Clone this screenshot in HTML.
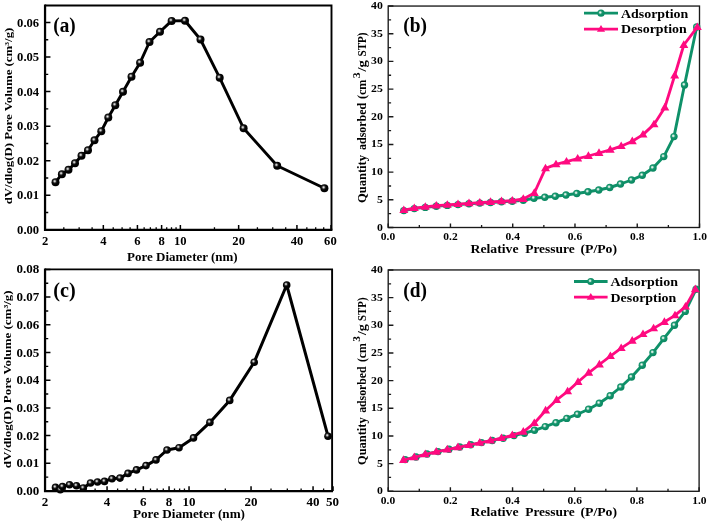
<!DOCTYPE html>
<html><head><meta charset="utf-8"><title>Pore size distribution and isotherms</title>
<style>
html,body{margin:0;padding:0;background:#fff;}
body{width:708px;height:524px;overflow:hidden;}
svg{display:block;will-change:transform;filter:blur(0.35px);font-family:"Liberation Serif",serif;font-weight:bold;fill:#000;}
</style></head><body>
<svg width="708" height="524" viewBox="0 0 708 524">
<defs>
<radialGradient id="gk" cx="0.40" cy="0.38" r="0.6" fx="0.40" fy="0.38">
<stop offset="0" stop-color="#ececec"/><stop offset="0.16" stop-color="#b0b0b0"/><stop offset="0.36" stop-color="#2a2a2a"/><stop offset="0.55" stop-color="#050505"/><stop offset="1" stop-color="#000"/>
</radialGradient>
<radialGradient id="gg" cx="0.40" cy="0.40" r="0.6" fx="0.40" fy="0.40">
<stop offset="0" stop-color="#f4fbf8"/><stop offset="0.18" stop-color="#bfe3d6"/><stop offset="0.40" stop-color="#239a73"/><stop offset="0.6" stop-color="#0f9169"/><stop offset="1" stop-color="#0b8761"/>
</radialGradient>
</defs>
<rect width="708" height="524" fill="#fff"/>
<path d="M45.05 5.5H331.5V229.8" fill="none" stroke="#000" stroke-width="1.9" stroke-linejoin="miter"/>
<path d="M45.05 4.55V229.8H332.45" fill="none" stroke="#000" stroke-width="2.25" stroke-linejoin="miter"/>
<path d="M45.05 229.80h5.4M45.05 195.25h5.4M45.05 160.70h5.4M45.05 126.15h5.4M45.05 91.60h5.4M45.05 57.05h5.4M45.05 22.50h5.4" stroke="#000" stroke-width="1.5" fill="none"/>
<path d="M45.05 212.53h3.2M45.05 177.97h3.2M45.05 143.43h3.2M45.05 108.88h3.2M45.05 74.33h3.2M45.05 39.78h3.2" stroke="#000" stroke-width="1.4" fill="none"/>
<text x="39.15" y="233.8" font-size="12.6" text-anchor="end">0.00</text>
<text x="39.15" y="199.25" font-size="12.6" text-anchor="end">0.01</text>
<text x="39.15" y="164.7" font-size="12.6" text-anchor="end">0.02</text>
<text x="39.15" y="130.15" font-size="12.6" text-anchor="end">0.03</text>
<text x="39.15" y="95.6" font-size="12.6" text-anchor="end">0.04</text>
<text x="39.15" y="61.05" font-size="12.6" text-anchor="end">0.05</text>
<text x="39.15" y="26.5" font-size="12.6" text-anchor="end">0.06</text>
<path d="M45.05 229.8v-4.8M103.33 229.8v-4.8M137.42 229.8v-4.8M161.61 229.8v-4.8M180.37 229.8v-4.8M238.65 229.8v-4.8M296.93 229.8v-4.8M331.02 229.8v-4.8" stroke="#000" stroke-width="1.5" fill="none"/>
<path d="M63.81 229.8v-2.6M79.14 229.8v-2.6M92.10 229.8v-2.6M113.23 229.8v-2.6M122.09 229.8v-2.6M130.10 229.8v-2.6M144.15 229.8v-2.6M150.38 229.8v-2.6M156.18 229.8v-2.6M166.71 229.8v-2.6M171.51 229.8v-2.6M176.06 229.8v-2.6M214.46 229.8v-2.6M257.41 229.8v-2.6M272.74 229.8v-2.6M285.70 229.8v-2.6M306.83 229.8v-2.6M315.69 229.8v-2.6M323.70 229.8v-2.6" stroke="#000" stroke-width="1.3" fill="none"/>
<text x="45.05" y="245.3" font-size="12.6" text-anchor="middle">2</text>
<text x="103.33" y="245.3" font-size="12.6" text-anchor="middle">4</text>
<text x="137.42" y="245.3" font-size="12.6" text-anchor="middle">6</text>
<text x="161.61" y="245.3" font-size="12.6" text-anchor="middle">8</text>
<text x="180.37" y="245.3" font-size="12.6" text-anchor="middle">10</text>
<text x="238.65" y="245.3" font-size="12.6" text-anchor="middle">20</text>
<text x="296.93" y="245.3" font-size="12.6" text-anchor="middle">40</text>
<text x="330.42" y="245.3" font-size="12.6" text-anchor="middle">60</text>
<polyline points="55.50,182.20 61.90,174.20 68.50,169.80 75.00,163.20 81.50,155.80 88.00,150.20 94.50,140.30 101.30,131.20 108.30,117.50 115.30,105.20 123.00,91.80 131.50,76.70 140.10,62.70 149.50,42.00 160.00,31.80 171.60,20.90 185.00,20.80 200.50,39.50 219.70,77.80 243.60,128.30 277.20,165.80 324.40,188.30" fill="none" stroke="#000" stroke-width="2.9" stroke-linejoin="round" stroke-linecap="round"/>
<circle cx="55.50" cy="182.20" r="4.0" fill="url(#gk)"/>
<circle cx="61.90" cy="174.20" r="4.0" fill="url(#gk)"/>
<circle cx="68.50" cy="169.80" r="4.0" fill="url(#gk)"/>
<circle cx="75.00" cy="163.20" r="4.0" fill="url(#gk)"/>
<circle cx="81.50" cy="155.80" r="4.0" fill="url(#gk)"/>
<circle cx="88.00" cy="150.20" r="4.0" fill="url(#gk)"/>
<circle cx="94.50" cy="140.30" r="4.0" fill="url(#gk)"/>
<circle cx="101.30" cy="131.20" r="4.0" fill="url(#gk)"/>
<circle cx="108.30" cy="117.50" r="4.0" fill="url(#gk)"/>
<circle cx="115.30" cy="105.20" r="4.0" fill="url(#gk)"/>
<circle cx="123.00" cy="91.80" r="4.0" fill="url(#gk)"/>
<circle cx="131.50" cy="76.70" r="4.0" fill="url(#gk)"/>
<circle cx="140.10" cy="62.70" r="4.0" fill="url(#gk)"/>
<circle cx="149.50" cy="42.00" r="4.0" fill="url(#gk)"/>
<circle cx="160.00" cy="31.80" r="4.0" fill="url(#gk)"/>
<circle cx="171.60" cy="20.90" r="4.0" fill="url(#gk)"/>
<circle cx="185.00" cy="20.80" r="4.0" fill="url(#gk)"/>
<circle cx="200.50" cy="39.50" r="4.0" fill="url(#gk)"/>
<circle cx="219.70" cy="77.80" r="4.0" fill="url(#gk)"/>
<circle cx="243.60" cy="128.30" r="4.0" fill="url(#gk)"/>
<circle cx="277.20" cy="165.80" r="4.0" fill="url(#gk)"/>
<circle cx="324.40" cy="188.30" r="4.0" fill="url(#gk)"/>
<text x="64.5" y="32.3" font-size="20.4" text-anchor="middle" textLength="22.40" lengthAdjust="spacingAndGlyphs">(a)</text>
<text x="182.4" y="260.8" font-size="12.9" text-anchor="middle" textLength="110.60" lengthAdjust="spacingAndGlyphs">Pore Diameter (nm)</text>
<text x="12.2" y="116" font-size="11.4" text-anchor="middle" textLength="176.70" lengthAdjust="spacingAndGlyphs" transform="rotate(-90 12.2 116)">dV/dlog(D) Pore Volume (cm³/g)</text>
<path d="M45.05 269.35H332.1V491.0" fill="none" stroke="#000" stroke-width="1.9" stroke-linejoin="miter"/>
<path d="M45.05 268.40000000000003V491.0H333.05" fill="none" stroke="#000" stroke-width="2.25" stroke-linejoin="miter"/>
<path d="M45.05 491.00h5.4M45.05 463.30h5.4M45.05 435.60h5.4M45.05 407.90h5.4M45.05 380.20h5.4M45.05 352.50h5.4M45.05 324.80h5.4M45.05 297.10h5.4M45.05 269.40h5.4" stroke="#000" stroke-width="1.5" fill="none"/>
<path d="M45.05 477.15h3.2M45.05 449.45h3.2M45.05 421.75h3.2M45.05 394.05h3.2M45.05 366.35h3.2M45.05 338.65h3.2M45.05 310.95h3.2M45.05 283.25h3.2" stroke="#000" stroke-width="1.4" fill="none"/>
<text x="39.15" y="495.0" font-size="13.0" text-anchor="end">0.00</text>
<text x="39.15" y="467.3" font-size="13.0" text-anchor="end">0.01</text>
<text x="39.15" y="439.6" font-size="13.0" text-anchor="end">0.02</text>
<text x="39.15" y="411.9" font-size="13.0" text-anchor="end">0.03</text>
<text x="39.15" y="384.2" font-size="13.0" text-anchor="end">0.04</text>
<text x="39.15" y="356.5" font-size="13.0" text-anchor="end">0.05</text>
<text x="39.15" y="328.8" font-size="13.0" text-anchor="end">0.06</text>
<text x="39.15" y="301.1" font-size="13.0" text-anchor="end">0.07</text>
<text x="39.15" y="273.4" font-size="13.0" text-anchor="end">0.08</text>
<path d="M45.05 491.0v-4.8M107.06 491.0v-4.8M143.34 491.0v-4.8M169.07 491.0v-4.8M189.04 491.0v-4.8M251.05 491.0v-4.8M313.06 491.0v-4.8M333.03 491.0v-4.8" stroke="#000" stroke-width="1.5" fill="none"/>
<path d="M65.01 491.0v-2.6M81.32 491.0v-2.6M95.12 491.0v-2.6M117.60 491.0v-2.6M127.03 491.0v-2.6M135.55 491.0v-2.6M150.50 491.0v-2.6M157.13 491.0v-2.6M163.30 491.0v-2.6M174.50 491.0v-2.6M179.61 491.0v-2.6M184.45 491.0v-2.6M225.31 491.0v-2.6M271.01 491.0v-2.6M287.32 491.0v-2.6M301.12 491.0v-2.6M323.60 491.0v-2.6" stroke="#000" stroke-width="1.3" fill="none"/>
<text x="45.05" y="505.9" font-size="13.0" text-anchor="middle">2</text>
<text x="107.06" y="505.9" font-size="13.0" text-anchor="middle">4</text>
<text x="143.34" y="505.9" font-size="13.0" text-anchor="middle">6</text>
<text x="169.07" y="505.9" font-size="13.0" text-anchor="middle">8</text>
<text x="189.04" y="505.9" font-size="13.0" text-anchor="middle">10</text>
<text x="251.05" y="505.9" font-size="13.0" text-anchor="middle">20</text>
<text x="313.06" y="505.9" font-size="13.0" text-anchor="middle">40</text>
<text x="332.43" y="505.9" font-size="13.0" text-anchor="middle">50</text>
<polyline points="55.50,487.40 60.30,489.80 62.50,486.60 69.50,484.70 76.50,485.70 83.30,488.00 90.50,483.00 97.50,482.00 104.50,481.40 112.00,478.70 120.00,478.10 128.00,473.40 136.50,469.90 146.00,465.60 156.00,459.90 167.00,450.00 179.00,447.70 193.50,437.90 209.90,422.40 229.70,400.40 254.20,362.20 286.70,285.00 328.00,436.20" fill="none" stroke="#000" stroke-width="3.0" stroke-linejoin="round" stroke-linecap="round"/>
<circle cx="55.50" cy="487.40" r="3.8" fill="url(#gk)"/>
<circle cx="60.30" cy="489.80" r="3.8" fill="url(#gk)"/>
<circle cx="62.50" cy="486.60" r="3.8" fill="url(#gk)"/>
<circle cx="69.50" cy="484.70" r="3.8" fill="url(#gk)"/>
<circle cx="76.50" cy="485.70" r="3.8" fill="url(#gk)"/>
<circle cx="83.30" cy="488.00" r="3.8" fill="url(#gk)"/>
<circle cx="90.50" cy="483.00" r="3.8" fill="url(#gk)"/>
<circle cx="97.50" cy="482.00" r="3.8" fill="url(#gk)"/>
<circle cx="104.50" cy="481.40" r="3.8" fill="url(#gk)"/>
<circle cx="112.00" cy="478.70" r="3.8" fill="url(#gk)"/>
<circle cx="120.00" cy="478.10" r="3.8" fill="url(#gk)"/>
<circle cx="128.00" cy="473.40" r="3.8" fill="url(#gk)"/>
<circle cx="136.50" cy="469.90" r="3.8" fill="url(#gk)"/>
<circle cx="146.00" cy="465.60" r="3.8" fill="url(#gk)"/>
<circle cx="156.00" cy="459.90" r="3.8" fill="url(#gk)"/>
<circle cx="167.00" cy="450.00" r="3.8" fill="url(#gk)"/>
<circle cx="179.00" cy="447.70" r="3.8" fill="url(#gk)"/>
<circle cx="193.50" cy="437.90" r="3.8" fill="url(#gk)"/>
<circle cx="209.90" cy="422.40" r="3.8" fill="url(#gk)"/>
<circle cx="229.70" cy="400.40" r="3.8" fill="url(#gk)"/>
<circle cx="254.20" cy="362.20" r="3.8" fill="url(#gk)"/>
<circle cx="286.70" cy="285.00" r="3.8" fill="url(#gk)"/>
<circle cx="328.00" cy="436.20" r="3.8" fill="url(#gk)"/>
<text x="64.5" y="296.6" font-size="20.4" text-anchor="middle" textLength="22.40" lengthAdjust="spacingAndGlyphs">(c)</text>
<text x="189" y="518.4" font-size="13" text-anchor="middle" textLength="112.00" lengthAdjust="spacingAndGlyphs">Pore Diameter (nm)</text>
<text x="10.9" y="379.3" font-size="10.6" text-anchor="middle" textLength="177.90" lengthAdjust="spacingAndGlyphs" transform="rotate(-90 10.9 379.3)">dV/dlog(D) Pore Volume (cm³/g)</text>
<rect x="388.2" y="6.05" width="311.30" height="221.45" fill="none" stroke="#1a1a1a" stroke-width="1.35"/>
<path d="M388.2 227.50h5.2M388.2 199.82h5.2M388.2 172.14h5.2M388.2 144.46h5.2M388.2 116.78h5.2M388.2 89.09h5.2M388.2 61.41h5.2M388.2 33.73h5.2M388.2 6.05h5.2" stroke="#1a1a1a" stroke-width="1.4" fill="none"/>
<path d="M388.2 213.66h2.9M388.2 185.98h2.9M388.2 158.30h2.9M388.2 130.62h2.9M388.2 102.93h2.9M388.2 75.25h2.9M388.2 47.57h2.9M388.2 19.89h2.9" stroke="#1a1a1a" stroke-width="1.3" fill="none"/>
<text x="382.8" y="230.5" font-size="10.5" text-anchor="end" textLength="5.88" lengthAdjust="spacingAndGlyphs">0</text>
<text x="382.8" y="202.82" font-size="10.5" text-anchor="end" textLength="5.88" lengthAdjust="spacingAndGlyphs">5</text>
<text x="382.8" y="175.14" font-size="10.5" text-anchor="end" textLength="11.76" lengthAdjust="spacingAndGlyphs">10</text>
<text x="382.8" y="147.46" font-size="10.5" text-anchor="end" textLength="11.76" lengthAdjust="spacingAndGlyphs">15</text>
<text x="382.8" y="119.78" font-size="10.5" text-anchor="end" textLength="11.76" lengthAdjust="spacingAndGlyphs">20</text>
<text x="382.8" y="92.09" font-size="10.5" text-anchor="end" textLength="11.76" lengthAdjust="spacingAndGlyphs">25</text>
<text x="382.8" y="64.41" font-size="10.5" text-anchor="end" textLength="11.76" lengthAdjust="spacingAndGlyphs">30</text>
<text x="382.8" y="36.73" font-size="10.5" text-anchor="end" textLength="11.76" lengthAdjust="spacingAndGlyphs">35</text>
<text x="382.8" y="9.05" font-size="10.5" text-anchor="end" textLength="11.76" lengthAdjust="spacingAndGlyphs">40</text>
<path d="M388.20 227.5v-4.0M450.46 227.5v-4.0M512.72 227.5v-4.0M574.98 227.5v-4.0M637.24 227.5v-4.0M699.50 227.5v-4.0" stroke="#1a1a1a" stroke-width="1.4" fill="none"/>
<path d="M419.33 227.5v-2.5M481.59 227.5v-2.5M543.85 227.5v-2.5M606.11 227.5v-2.5M668.37 227.5v-2.5" stroke="#1a1a1a" stroke-width="1.3" fill="none"/>
<text x="388.0" y="240.1" font-size="10.3" text-anchor="middle" textLength="14.40" lengthAdjust="spacingAndGlyphs">0.0</text>
<text x="450.46" y="240.1" font-size="10.3" text-anchor="middle" textLength="14.40" lengthAdjust="spacingAndGlyphs">0.2</text>
<text x="512.72" y="240.1" font-size="10.3" text-anchor="middle" textLength="14.40" lengthAdjust="spacingAndGlyphs">0.4</text>
<text x="574.98" y="240.1" font-size="10.3" text-anchor="middle" textLength="14.40" lengthAdjust="spacingAndGlyphs">0.6</text>
<text x="637.24" y="240.1" font-size="10.3" text-anchor="middle" textLength="14.40" lengthAdjust="spacingAndGlyphs">0.8</text>
<text x="699.8" y="240.1" font-size="10.3" text-anchor="middle" textLength="14.40" lengthAdjust="spacingAndGlyphs">1.0</text>
<polyline points="403.80,210.60 414.30,208.60 425.30,207.40 436.30,206.20 447.30,205.40 458.00,204.60 469.00,203.80 479.80,203.10 490.50,202.50 501.50,201.80 512.30,201.20 523.30,200.20 534.00,198.20 544.80,197.30 555.30,196.30 566.00,195.00 576.80,193.50 588.00,191.80 598.80,190.00 609.80,187.50 620.50,184.00 631.50,180.00 642.30,175.30 653.00,168.00 663.80,156.60 674.00,136.60 684.50,85.00 696.70,27.00" fill="none" stroke="#0f9169" stroke-width="2.9" stroke-linejoin="round" stroke-linecap="round"/>
<circle cx="403.80" cy="210.60" r="3.7" fill="url(#gg)"/>
<circle cx="414.30" cy="208.60" r="3.7" fill="url(#gg)"/>
<circle cx="425.30" cy="207.40" r="3.7" fill="url(#gg)"/>
<circle cx="436.30" cy="206.20" r="3.7" fill="url(#gg)"/>
<circle cx="447.30" cy="205.40" r="3.7" fill="url(#gg)"/>
<circle cx="458.00" cy="204.60" r="3.7" fill="url(#gg)"/>
<circle cx="469.00" cy="203.80" r="3.7" fill="url(#gg)"/>
<circle cx="479.80" cy="203.10" r="3.7" fill="url(#gg)"/>
<circle cx="490.50" cy="202.50" r="3.7" fill="url(#gg)"/>
<circle cx="501.50" cy="201.80" r="3.7" fill="url(#gg)"/>
<circle cx="512.30" cy="201.20" r="3.7" fill="url(#gg)"/>
<circle cx="523.30" cy="200.20" r="3.7" fill="url(#gg)"/>
<circle cx="534.00" cy="198.20" r="3.7" fill="url(#gg)"/>
<circle cx="544.80" cy="197.30" r="3.7" fill="url(#gg)"/>
<circle cx="555.30" cy="196.30" r="3.7" fill="url(#gg)"/>
<circle cx="566.00" cy="195.00" r="3.7" fill="url(#gg)"/>
<circle cx="576.80" cy="193.50" r="3.7" fill="url(#gg)"/>
<circle cx="588.00" cy="191.80" r="3.7" fill="url(#gg)"/>
<circle cx="598.80" cy="190.00" r="3.7" fill="url(#gg)"/>
<circle cx="609.80" cy="187.50" r="3.7" fill="url(#gg)"/>
<circle cx="620.50" cy="184.00" r="3.7" fill="url(#gg)"/>
<circle cx="631.50" cy="180.00" r="3.7" fill="url(#gg)"/>
<circle cx="642.30" cy="175.30" r="3.7" fill="url(#gg)"/>
<circle cx="653.00" cy="168.00" r="3.7" fill="url(#gg)"/>
<circle cx="663.80" cy="156.60" r="3.7" fill="url(#gg)"/>
<circle cx="674.00" cy="136.60" r="3.7" fill="url(#gg)"/>
<circle cx="684.50" cy="85.00" r="3.7" fill="url(#gg)"/>
<circle cx="696.70" cy="27.00" r="3.7" fill="url(#gg)"/>
<polyline points="403.80,210.20 414.30,208.10 425.30,206.90 436.30,205.70 447.30,204.90 458.00,204.10 469.00,203.30 479.80,202.60 490.50,202.00 501.50,201.30 512.30,200.60 523.30,199.00 534.30,193.00 545.50,168.40 556.00,164.40 566.50,161.60 577.70,158.70 588.40,156.00 599.00,153.00 610.20,149.80 621.20,146.20 632.30,141.30 643.00,134.60 654.00,124.40 664.80,107.50 674.70,75.50 683.80,45.00 697.30,27.20" fill="none" stroke="#ff0a80" stroke-width="2.8" stroke-linejoin="round" stroke-linecap="round"/>
<path d="M403.80 205.49L408.30 213.09L399.30 213.09ZM414.30 203.39L418.80 210.99L409.80 210.99ZM425.30 202.19L429.80 209.79L420.80 209.79ZM436.30 200.99L440.80 208.59L431.80 208.59ZM447.30 200.19L451.80 207.79L442.80 207.79ZM458.00 199.39L462.50 206.99L453.50 206.99ZM469.00 198.59L473.50 206.19L464.50 206.19ZM479.80 197.89L484.30 205.49L475.30 205.49ZM490.50 197.29L495.00 204.89L486.00 204.89ZM501.50 196.59L506.00 204.19L497.00 204.19ZM512.30 195.89L516.80 203.49L507.80 203.49ZM523.30 194.29L527.80 201.89L518.80 201.89ZM534.30 188.29L538.80 195.89L529.80 195.89ZM545.50 163.69L550.00 171.29L541.00 171.29ZM556.00 159.69L560.50 167.29L551.50 167.29ZM566.50 156.89L571.00 164.49L562.00 164.49ZM577.70 153.99L582.20 161.59L573.20 161.59ZM588.40 151.29L592.90 158.89L583.90 158.89ZM599.00 148.29L603.50 155.89L594.50 155.89ZM610.20 145.09L614.70 152.69L605.70 152.69ZM621.20 141.49L625.70 149.09L616.70 149.09ZM632.30 136.59L636.80 144.19L627.80 144.19ZM643.00 129.89L647.50 137.49L638.50 137.49ZM654.00 119.69L658.50 127.29L649.50 127.29ZM664.80 102.79L669.30 110.39L660.30 110.39ZM674.70 70.79L679.20 78.39L670.20 78.39ZM683.80 40.29L688.30 47.89L679.30 47.89ZM697.30 22.49L701.80 30.09L692.80 30.09Z" fill="#ff0a80"/>
<path d="M584 13.2H618" stroke="#0f9169" stroke-width="2.8"/>
<circle cx="601.00" cy="13.20" r="3.6" fill="url(#gg)"/>
<path d="M584 29.2H618" stroke="#ff0a80" stroke-width="2.8"/>
<path d="M601.00 24.92L605.10 31.82L596.90 31.82Z" fill="#ff0a80"/>
<text x="621" y="17.5" font-size="12.2" textLength="67.30" lengthAdjust="spacingAndGlyphs">Adsorption</text>
<text x="621" y="33.2" font-size="12.2" textLength="65.80" lengthAdjust="spacingAndGlyphs">Desorption</text>
<text x="415.2" y="32.2" font-size="20.8" text-anchor="middle" textLength="23.70" lengthAdjust="spacingAndGlyphs">(b)</text>
<text x="470.5" y="253.1" font-size="12.2" textLength="48.10" lengthAdjust="spacingAndGlyphs">Relative</text>
<text x="525.2" y="253.1" font-size="12.2" textLength="49.40" lengthAdjust="spacingAndGlyphs">Pressure</text>
<text x="580.4" y="253.1" font-size="12.2" textLength="36.70" lengthAdjust="spacingAndGlyphs">(P/Po)</text>
<rect x="388.2" y="269.95" width="310.90" height="221.35" fill="none" stroke="#1a1a1a" stroke-width="1.35"/>
<path d="M388.2 491.30h5.2M388.2 463.63h5.2M388.2 435.96h5.2M388.2 408.29h5.2M388.2 380.62h5.2M388.2 352.96h5.2M388.2 325.29h5.2M388.2 297.62h5.2M388.2 269.95h5.2" stroke="#1a1a1a" stroke-width="1.4" fill="none"/>
<path d="M388.2 477.47h2.9M388.2 449.80h2.9M388.2 422.13h2.9M388.2 394.46h2.9M388.2 366.79h2.9M388.2 339.12h2.9M388.2 311.45h2.9M388.2 283.78h2.9" stroke="#1a1a1a" stroke-width="1.3" fill="none"/>
<text x="382.8" y="494.3" font-size="10.5" text-anchor="end" textLength="5.88" lengthAdjust="spacingAndGlyphs">0</text>
<text x="382.8" y="466.63" font-size="10.5" text-anchor="end" textLength="5.88" lengthAdjust="spacingAndGlyphs">5</text>
<text x="382.8" y="438.96" font-size="10.5" text-anchor="end" textLength="11.76" lengthAdjust="spacingAndGlyphs">10</text>
<text x="382.8" y="411.29" font-size="10.5" text-anchor="end" textLength="11.76" lengthAdjust="spacingAndGlyphs">15</text>
<text x="382.8" y="383.62" font-size="10.5" text-anchor="end" textLength="11.76" lengthAdjust="spacingAndGlyphs">20</text>
<text x="382.8" y="355.96" font-size="10.5" text-anchor="end" textLength="11.76" lengthAdjust="spacingAndGlyphs">25</text>
<text x="382.8" y="328.29" font-size="10.5" text-anchor="end" textLength="11.76" lengthAdjust="spacingAndGlyphs">30</text>
<text x="382.8" y="300.62" font-size="10.5" text-anchor="end" textLength="11.76" lengthAdjust="spacingAndGlyphs">35</text>
<text x="382.8" y="272.95" font-size="10.5" text-anchor="end" textLength="11.76" lengthAdjust="spacingAndGlyphs">40</text>
<path d="M388.20 491.3v-4.0M450.38 491.3v-4.0M512.56 491.3v-4.0M574.74 491.3v-4.0M636.92 491.3v-4.0M699.10 491.3v-4.0" stroke="#1a1a1a" stroke-width="1.4" fill="none"/>
<path d="M419.29 491.3v-2.5M481.47 491.3v-2.5M543.65 491.3v-2.5M605.83 491.3v-2.5M668.01 491.3v-2.5" stroke="#1a1a1a" stroke-width="1.3" fill="none"/>
<text x="388.0" y="503.8" font-size="10.3" text-anchor="middle" textLength="14.40" lengthAdjust="spacingAndGlyphs">0.0</text>
<text x="450.38" y="503.8" font-size="10.3" text-anchor="middle" textLength="14.40" lengthAdjust="spacingAndGlyphs">0.2</text>
<text x="512.56" y="503.8" font-size="10.3" text-anchor="middle" textLength="14.40" lengthAdjust="spacingAndGlyphs">0.4</text>
<text x="574.74" y="503.8" font-size="10.3" text-anchor="middle" textLength="14.40" lengthAdjust="spacingAndGlyphs">0.6</text>
<text x="636.92" y="503.8" font-size="10.3" text-anchor="middle" textLength="14.40" lengthAdjust="spacingAndGlyphs">0.8</text>
<text x="699.4" y="503.8" font-size="10.3" text-anchor="middle" textLength="14.40" lengthAdjust="spacingAndGlyphs">1.0</text>
<polyline points="405.20,459.60 416.00,457.00 427.00,454.00 438.00,451.60 449.00,449.30 459.70,447.00 470.70,444.80 481.50,442.60 492.20,440.50 503.20,438.20 514.00,435.60 524.50,433.20 534.50,430.30 545.30,426.60 556.00,422.70 566.80,418.40 577.50,414.20 588.60,409.20 599.30,403.20 610.20,395.70 620.80,387.00 631.50,377.00 642.30,365.20 653.00,352.60 663.80,338.60 674.50,325.20 685.30,311.40 696.10,289.30" fill="none" stroke="#0f9169" stroke-width="2.9" stroke-linejoin="round" stroke-linecap="round"/>
<circle cx="405.20" cy="459.60" r="3.7" fill="url(#gg)"/>
<circle cx="416.00" cy="457.00" r="3.7" fill="url(#gg)"/>
<circle cx="427.00" cy="454.00" r="3.7" fill="url(#gg)"/>
<circle cx="438.00" cy="451.60" r="3.7" fill="url(#gg)"/>
<circle cx="449.00" cy="449.30" r="3.7" fill="url(#gg)"/>
<circle cx="459.70" cy="447.00" r="3.7" fill="url(#gg)"/>
<circle cx="470.70" cy="444.80" r="3.7" fill="url(#gg)"/>
<circle cx="481.50" cy="442.60" r="3.7" fill="url(#gg)"/>
<circle cx="492.20" cy="440.50" r="3.7" fill="url(#gg)"/>
<circle cx="503.20" cy="438.20" r="3.7" fill="url(#gg)"/>
<circle cx="514.00" cy="435.60" r="3.7" fill="url(#gg)"/>
<circle cx="524.50" cy="433.20" r="3.7" fill="url(#gg)"/>
<circle cx="534.50" cy="430.30" r="3.7" fill="url(#gg)"/>
<circle cx="545.30" cy="426.60" r="3.7" fill="url(#gg)"/>
<circle cx="556.00" cy="422.70" r="3.7" fill="url(#gg)"/>
<circle cx="566.80" cy="418.40" r="3.7" fill="url(#gg)"/>
<circle cx="577.50" cy="414.20" r="3.7" fill="url(#gg)"/>
<circle cx="588.60" cy="409.20" r="3.7" fill="url(#gg)"/>
<circle cx="599.30" cy="403.20" r="3.7" fill="url(#gg)"/>
<circle cx="610.20" cy="395.70" r="3.7" fill="url(#gg)"/>
<circle cx="620.80" cy="387.00" r="3.7" fill="url(#gg)"/>
<circle cx="631.50" cy="377.00" r="3.7" fill="url(#gg)"/>
<circle cx="642.30" cy="365.20" r="3.7" fill="url(#gg)"/>
<circle cx="653.00" cy="352.60" r="3.7" fill="url(#gg)"/>
<circle cx="663.80" cy="338.60" r="3.7" fill="url(#gg)"/>
<circle cx="674.50" cy="325.20" r="3.7" fill="url(#gg)"/>
<circle cx="685.30" cy="311.40" r="3.7" fill="url(#gg)"/>
<circle cx="696.10" cy="289.30" r="3.7" fill="url(#gg)"/>
<polyline points="403.50,460.00 414.30,457.30 425.30,454.30 436.30,451.80 447.30,449.50 458.00,447.30 469.00,445.00 479.80,442.80 490.50,440.70 501.50,438.20 512.30,435.20 523.30,431.80 534.30,423.20 545.60,410.50 556.60,400.00 567.60,391.40 578.00,382.00 588.70,372.80 599.40,364.50 610.40,356.20 621.20,348.20 632.20,340.80 643.00,334.20 653.60,328.40 664.40,322.00 675.00,315.40 685.50,306.60 695.30,289.30" fill="none" stroke="#ff0a80" stroke-width="2.8" stroke-linejoin="round" stroke-linecap="round"/>
<path d="M403.50 455.29L408.00 462.89L399.00 462.89ZM414.30 452.59L418.80 460.19L409.80 460.19ZM425.30 449.59L429.80 457.19L420.80 457.19ZM436.30 447.09L440.80 454.69L431.80 454.69ZM447.30 444.79L451.80 452.39L442.80 452.39ZM458.00 442.59L462.50 450.19L453.50 450.19ZM469.00 440.29L473.50 447.89L464.50 447.89ZM479.80 438.09L484.30 445.69L475.30 445.69ZM490.50 435.99L495.00 443.59L486.00 443.59ZM501.50 433.49L506.00 441.09L497.00 441.09ZM512.30 430.49L516.80 438.09L507.80 438.09ZM523.30 427.09L527.80 434.69L518.80 434.69ZM534.30 418.49L538.80 426.09L529.80 426.09ZM545.60 405.79L550.10 413.39L541.10 413.39ZM556.60 395.29L561.10 402.89L552.10 402.89ZM567.60 386.69L572.10 394.29L563.10 394.29ZM578.00 377.29L582.50 384.89L573.50 384.89ZM588.70 368.09L593.20 375.69L584.20 375.69ZM599.40 359.79L603.90 367.39L594.90 367.39ZM610.40 351.49L614.90 359.09L605.90 359.09ZM621.20 343.49L625.70 351.09L616.70 351.09ZM632.20 336.09L636.70 343.69L627.70 343.69ZM643.00 329.49L647.50 337.09L638.50 337.09ZM653.60 323.69L658.10 331.29L649.10 331.29ZM664.40 317.29L668.90 324.89L659.90 324.89ZM675.00 310.69L679.50 318.29L670.50 318.29ZM685.50 301.89L690.00 309.49L681.00 309.49ZM695.30 284.59L699.80 292.19L690.80 292.19Z" fill="#ff0a80"/>
<path d="M574 281.5H607.6" stroke="#0f9169" stroke-width="2.8"/>
<circle cx="590.80" cy="281.50" r="3.6" fill="url(#gg)"/>
<path d="M574 297.2H607.6" stroke="#ff0a80" stroke-width="2.8"/>
<path d="M590.80 292.92L594.90 299.82L586.70 299.82Z" fill="#ff0a80"/>
<text x="610.5" y="285.8" font-size="12.2" textLength="67.50" lengthAdjust="spacingAndGlyphs">Adsorption</text>
<text x="610.5" y="301.8" font-size="12.2" textLength="65.80" lengthAdjust="spacingAndGlyphs">Desorption</text>
<text x="415.2" y="296.6" font-size="20.8" text-anchor="middle" textLength="23.70" lengthAdjust="spacingAndGlyphs">(d)</text>
<text x="470.5" y="516.4" font-size="12.2" textLength="48.10" lengthAdjust="spacingAndGlyphs">Relative</text>
<text x="525.2" y="516.4" font-size="12.2" textLength="49.40" lengthAdjust="spacingAndGlyphs">Pressure</text>
<text x="580.4" y="516.4" font-size="12.2" textLength="36.70" lengthAdjust="spacingAndGlyphs">(P/Po)</text>
<text x="366.1" y="203.1" font-size="12.0" textLength="48.20" lengthAdjust="spacingAndGlyphs" transform="rotate(-90 366.1 203.1)">Quantity</text>
<text x="366.1" y="149.9" font-size="12.0" textLength="47.00" lengthAdjust="spacingAndGlyphs" transform="rotate(-90 366.1 149.9)">adsorbed</text>
<text x="366.1" y="99.1" font-size="12.0" textLength="19.60" lengthAdjust="spacingAndGlyphs" transform="rotate(-90 366.1 99.1)">(cm</text>
<text x="360.0" y="78.2" font-size="9.6" textLength="5.80" lengthAdjust="spacingAndGlyphs" transform="rotate(-90 360.0 78.2)">3</text>
<text x="366.1" y="71.5" font-size="12.0" textLength="11.50" lengthAdjust="spacingAndGlyphs" transform="rotate(-90 366.1 71.5)">/g</text>
<text x="366.1" y="56.4" font-size="12.0" textLength="23.90" lengthAdjust="spacingAndGlyphs" transform="rotate(-90 366.1 56.4)">STP)</text>
<text x="366.1" y="464.9" font-size="12.0" textLength="47.50" lengthAdjust="spacingAndGlyphs" transform="rotate(-90 366.1 464.9)">Quantity</text>
<text x="366.1" y="412.8" font-size="12.0" textLength="46.40" lengthAdjust="spacingAndGlyphs" transform="rotate(-90 366.1 412.8)">adsorbed</text>
<text x="366.1" y="362.1" font-size="12.0" textLength="19.00" lengthAdjust="spacingAndGlyphs" transform="rotate(-90 366.1 362.1)">(cm</text>
<text x="360.0" y="341.8" font-size="9.6" textLength="5.60" lengthAdjust="spacingAndGlyphs" transform="rotate(-90 360.0 341.8)">3</text>
<text x="366.1" y="335.1" font-size="12.0" textLength="11.00" lengthAdjust="spacingAndGlyphs" transform="rotate(-90 366.1 335.1)">/g</text>
<text x="366.1" y="320.9" font-size="12.0" textLength="23.50" lengthAdjust="spacingAndGlyphs" transform="rotate(-90 366.1 320.9)">STP)</text>
</svg>
</body></html>
